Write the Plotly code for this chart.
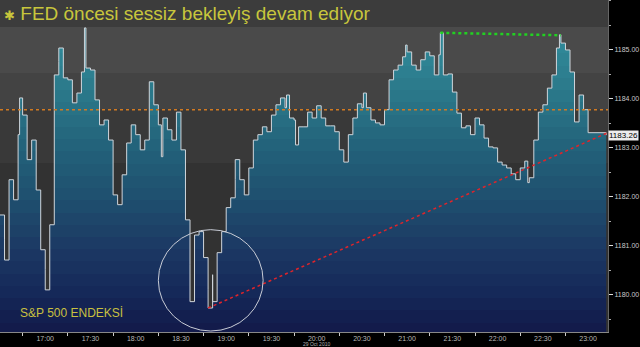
import plotly.graph_objects as go

# ---------------- data ----------------
session_start = "16:30"
step_minutes = 3
price = [
    1181.63, 1181.12, 1182.35, 1181.94, 1183.27, 1183.67, 1182.76, 1183.16, 1182.14, 1180.92,
    1180.51, 1181.43, 1184.49, 1184.76, 1184.43, 1184.39, 1183.92, 1184.12, 1184.55, 1184.63,
    1184.59, 1183.98, 1183.47, 1183.57, 1183.16, 1182.04, 1181.84, 1182.45, 1183.10, 1183.47,
    1183.27, 1182.96, 1183.16, 1184.35, 1183.88, 1183.47, 1183.61, 1183.37, 1183.16, 1183.73,
    1182.96, 1181.53, 1180.61, 1181.22, 1181.29, 1180.76, 1180.10, 1180.41, 1180.86, 1181.29,
    1181.78, 1181.98, 1182.35, 1182.35, 1182.04, 1182.59, 1183.16, 1183.27, 1183.43, 1183.33,
    1183.67, 1183.88, 1184.02, 1183.82, 1183.61, 1183.57, 1183.43, 1183.43, 1183.73, 1183.61,
    1183.86, 1183.61, 1183.45, 1183.45, 1183.33, 1182.96, 1182.71, 1183.27, 1183.61, 1183.90,
    1183.82, 1183.82, 1183.57, 1183.51, 1183.47, 1183.78, 1184.39, 1184.59, 1184.69, 1184.86,
    1184.96, 1184.69, 1184.59, 1184.80, 1184.96, 1184.88, 1184.49, 1184.90, 1184.49, 1184.51,
    1184.14, 1183.71, 1183.41, 1183.45, 1183.27, 1183.61, 1183.47, 1183.20, 1183.02, 1183.00,
    1182.71, 1182.65, 1182.59, 1182.47, 1182.35, 1182.59, 1182.73, 1182.39, 1183.16, 1183.73,
    1183.88, 1184.22, 1184.49, 1185.04, 1185.14, 1185.00, 1184.55, 1183.53, 1184.08, 1183.78,
    1183.31,
]
last_time = "23:12"
last_price = 1183.26

wick_times = ["16:33", "16:43", "17:00", "17:09", "17:26", "18:17", "18:36", "18:48", "18:51",
              "19:06", "19:40", "19:46", "20:31", "20:59", "21:22", "22:20", "22:41"]
wick_values = [1180.71, 1184.02, 1180.10, 1185.04, 1185.45, 1182.82, 1179.86, 1179.73, 1179.86,
               1182.76, 1184.08, 1183.06, 1184.12, 1185.10, 1185.35, 1182.29, 1185.31]

prev_close = 1183.78
trend_times = ["18:48", "23:13"]
trend_values = [1179.73, 1183.31]
resist_times = ["21:22", "22:42"]
resist_values = [1185.35, 1185.30]

x_tick_labels = ["17:00", "17:30", "18:00", "18:30", "19:00", "19:30", "20:00",
                 "20:30", "21:00", "21:30", "22:00", "22:30", "23:00"]
y_ticks = [1180, 1181, 1182, 1183, 1184, 1185]
date_label = "29 Oct 2010"
title_text = "FED öncesi sessiz bekleyiş devam ediyor"
index_label = "S&P 500 ENDEKSİ"


def mins(hhmm):
    h, m = hhmm.split(":")
    h0, m0 = session_start.split(":")
    return (int(h) * 60 + int(m)) - (int(h0) * 60 + int(m0))


# ---------------- build series ----------------
pts = [(i * step_minutes, v, 0) for i, v in enumerate(price)]
pts += [(mins(t), v, 1) for t, v in zip(wick_times, wick_values)]
pts.append((mins(last_time), last_price, 0))
pts.sort(key=lambda p: (p[0], p[2]))
xs = [p[0] for p in pts]
ys = [p[1] for p in pts]

PLOT_H = 332
X_MAX = 403.2
Y_MIN, Y_MAX = 1179.24, 1186.02


def hex2rgb(h):
    h = h.lstrip("#")
    return tuple(int(h[i:i + 2], 16) for i in (0, 2, 4))


stops = [(1179.18, "#121848"), (1180.0, "#152858"), (1181.0, "#1c3a64"),
         (1182.0, "#1f506f"), (1183.0, "#23627a"), (1184.0, "#2a7688"),
         (1185.0, "#2f8696"), (1186.02, "#3490a0")]


def color_at(v):
    for (a, ca), (b, cb) in zip(stops[:-1], stops[1:]):
        if a <= v <= b:
            t = (v - a) / (b - a)
            ra, rb = hex2rgb(ca), hex2rgb(cb)
            return "rgb(%d,%d,%d)" % tuple(round(ra[k] + (rb[k] - ra[k]) * t) for k in range(3))
    return stops[-1][1]


band = 0.25
edges = []
v = 1179.18
while v < Y_MAX:
    if v > Y_MIN:
        edges.append(v)
    v += band
edges = [Y_MIN] + edges + [Y_MAX]
cs = []
for a, b in zip(edges[:-1], edges[1:]):
    c = color_at((a + b) / 2)
    fa = (a - Y_MIN) / (Y_MAX - Y_MIN)
    fb = (b - Y_MIN) / (Y_MAX - Y_MIN)
    cs.append([fa, c])
    cs.append([min(fb, 1.0), c])
cs[0][0] = 0.0
cs[-1][0] = 1.0

fig = go.Figure()

fig.add_trace(go.Scatter(x=xs, y=[1179.0] * len(xs), mode="lines",
                         line=dict(width=0, color="rgba(0,0,0,0)", shape="hv"),
                         hoverinfo="skip", showlegend=False))
fig.add_trace(go.Scatter(x=xs, y=ys, mode="lines", fill="tonexty",
                         fillgradient=dict(type="vertical", colorscale=cs,
                                           start=Y_MIN, stop=Y_MAX),
                         line=dict(color="#cfd5db", width=1, shape="hv"),
                         hoverinfo="skip", showlegend=False))

# prev close (orange dotted)
fig.add_trace(go.Scatter(x=[0, X_MAX], y=[prev_close, prev_close], mode="lines",
                         line=dict(color="#d27a22", width=1.6, dash="dot"),
                         hoverinfo="skip", showlegend=False))
# trend (red dotted)
fig.add_trace(go.Scatter(x=[mins(t) for t in trend_times], y=trend_values, mode="lines",
                         line=dict(color="#e0242a", width=1.5, dash="dot"),
                         hoverinfo="skip", showlegend=False))
# resistance (green dotted)
fig.add_trace(go.Scatter(x=[mins(t) for t in resist_times], y=resist_values, mode="lines",
                         line=dict(color="#22d022", width=2.5, dash="dot"),
                         hoverinfo="skip", showlegend=False))

# gray background bands (upper region)
gray_bands = [(1185.47, 1186.1, "#3c3c3c"), (1184.53, 1185.47, "#4a4a4a"),
              (1183.78, 1184.53, "#434343"), (1182.69, 1183.78, "#393939"),
              (1179.0, 1182.69, "#323232")]
shapes = []
for a, b, c in gray_bands:
    shapes.append(dict(type="rect", xref="x", yref="y", x0=0, x1=X_MAX, y0=a, y1=b,
                       fillcolor=c, line=dict(width=0), layer="below"))
# circle highlight
shapes.append(dict(type="circle", xref="x", yref="y", x0=105, x1=174.5,
                   y0=1179.26, y1=1181.33, line=dict(color="#c8ccd6", width=1)))

annotations = [
    dict(xref="paper", yref="paper", x=0.004, y=1 - 14 / PLOT_H, xanchor="left", yanchor="middle",
         text="<span style='font-size:13px'>✱</span> " + title_text, showarrow=False,
         font=dict(family="Liberation Sans, Arial", size=19, color="#c8c63c")),
    dict(xref="paper", yref="paper", x=18 / 608, y=1 - 313 / PLOT_H, xanchor="left", yanchor="middle",
         text=index_label, showarrow=False,
         font=dict(family="Liberation Sans Narrow, Liberation Sans", size=12, color="#c8c040")),
    dict(xref="paper", yref="y", x=1.0, y=last_price, xanchor="left", yanchor="middle",
         text="%.2f" % last_price, showarrow=False, bgcolor="#ececec",
         font=dict(family="Liberation Sans", size=8, color="#000000"), borderpad=0),
    dict(xref="x", yref="paper", x=mins("20:00"), y=-8 / PLOT_H, xanchor="center", yanchor="top",
         text=date_label, showarrow=False, borderpad=0,
         font=dict(family="Liberation Sans", size=5, color="#b0b0b0")),
]

fig.update_layout(
    width=640, height=347,
    margin=dict(l=0, r=32, t=0, b=347 - PLOT_H),
    paper_bgcolor="#000000", plot_bgcolor="#323232",
    shapes=shapes, annotations=annotations,
    showlegend=False,
)
fig.update_xaxes(range=[0, X_MAX], tickmode="array",
                 tickvals=[mins(t) for t in x_tick_labels], ticktext=x_tick_labels,
                 ticks="", showgrid=False, zeroline=False, ticklabelstandoff=0,
                 tickfont=dict(family="Liberation Sans", size=7, color="#b8b8b8"),
                 showline=True, linecolor="#888888", linewidth=1,
                 minor=dict(ticks="outside", tick0=15, dtick=30, ticklen=3, tickcolor="#cccccc"))
fig.update_yaxes(range=[Y_MIN, Y_MAX], side="right", tickmode="array",
                 tickvals=y_ticks, ticktext=["%.2f" % t for t in y_ticks],
                 ticks="outside", ticklen=4, tickcolor="#dddddd", showgrid=False, zeroline=False,
                 tickfont=dict(family="Liberation Sans", size=7, color="#c8c8c8"),
                 showline=True, linecolor="#666666", linewidth=1,
                 minor=dict(ticks="outside", dtick=0.5, ticklen=2, tickcolor="#aaaaaa"))

fig.write_html("out.html")
